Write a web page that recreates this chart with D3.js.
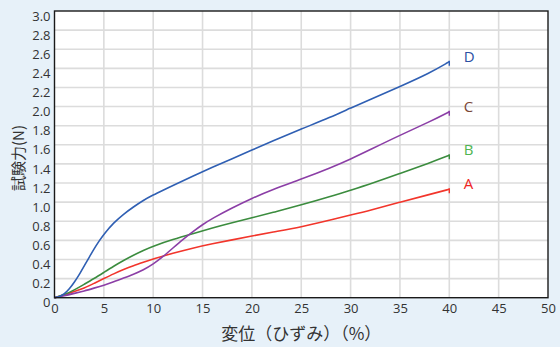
<!DOCTYPE html>
<html><head><meta charset="utf-8">
<script src="https://cdn.jsdelivr.net/npm/d3@7"></script>
<style>
html,body{margin:0;padding:0;background:#e7f1f9;}
svg{display:block;}
</style></head>
<body>
<svg id="chart" width="560" height="347"></svg>
<script>
const xTicks = [0,5,10,15,20,25,30,35,40,45,50];
const yTicks = [0,0.2,0.4,0.6,0.8,1.0,1.2,1.4,1.6,1.8,2.0,2.2,2.4,2.6,2.8,3.0];
const seriesNames = ["A","B","C","D"];
const xA = [0,1,2,3,4,5,6,7,8,9,10,12,14,16,18,20,22,25,28,30,32,35,38,40];
const valA = [0,0.03,0.065,0.1,0.15,0.2,0.25,0.295,0.335,0.37,0.405,0.465,0.52,0.565,0.605,0.645,0.685,0.74,0.815,0.865,0.915,1.0,1.08,1.135];
const xB = [0,1,2,3,4,5,6,7,8,9,10,12,14,16,18,20,22,25,28,30,32,35,38,40];
const valB = [0,0.03,0.08,0.14,0.2,0.265,0.33,0.39,0.445,0.495,0.54,0.61,0.67,0.73,0.785,0.835,0.89,0.97,1.06,1.125,1.19,1.3,1.41,1.49];
const xC = [0,1,2,3,4,5,6,7,8,9,10,11,12,13,14,15,16,18,20,22,25,28,30,32,35,38,40];
const valC = [0,0.02,0.045,0.07,0.1,0.13,0.165,0.205,0.245,0.29,0.35,0.43,0.52,0.61,0.69,0.765,0.83,0.94,1.04,1.13,1.24,1.36,1.45,1.55,1.7,1.84,1.946];
const xD = [0,0.5,1,1.5,2,2.5,3,3.5,4,4.5,5,6,7,8,9,10,11,12,14,16,18,20,22,25,28,30,32,35,38,40];
const valD = [0,0.01,0.04,0.09,0.16,0.24,0.33,0.42,0.51,0.59,0.665,0.785,0.875,0.95,1.02,1.075,1.125,1.175,1.27,1.365,1.455,1.545,1.635,1.765,1.89,1.985,2.075,2.21,2.35,2.47];
const lineColors = {A:"#f2352b",B:"#3b8c3e",C:"#8b3ea6",D:"#2f5fb3"};
const labelColors = {A:"#ee2424",B:"#4fb552",C:"#7a4636",D:"#2b4fa3"};

const series = [
  {name:"A", xs:xA, ys:valA},
  {name:"B", xs:xB, ys:valB},
  {name:"C", xs:xC, ys:valC},
  {name:"D", xs:xD, ys:valD}
];

const svg = d3.select("#chart");
const L = 54.5, R = 548, T = 11, B = 297.7;
const x = d3.scaleLinear().domain([0,50]).range([L,R]);
const y = d3.scaleLinear().domain([0,3.0]).range([B,T]);

svg.append("rect").attr("x",L).attr("y",T).attr("width",R-L).attr("height",B-T).attr("fill","#fff");

// grid
const g = svg.append("g");
g.selectAll(".vg").data(xTicks.slice(1,-1)).join("line")
  .attr("x1",d=>x(d)).attr("x2",d=>x(d)).attr("y1",T).attr("y2",B)
  .attr("stroke","#dcdcdc").attr("stroke-width",1.6);
g.selectAll(".hg").data(yTicks.slice(1,-1)).join("line")
  .attr("y1",d=>y(d)).attr("y2",d=>y(d)).attr("x1",L).attr("x2",R)
  .attr("stroke","#dcdcdc").attr("stroke-width",1.6);

// lines
const line = d3.line().x(d=>x(d[0])).y(d=>y(d[1])).curve(d3.curveBasis);
series.forEach(s=>{
  const pts = s.xs.map((v,i)=>[v,s.ys[i]]);
  svg.append("path").datum(pts).attr("d",line).attr("fill","none")
    .attr("stroke",lineColors[s.name]).attr("stroke-width",1.6);
  const last = pts[pts.length-1];
  svg.append("line").attr("x1",x(last[0])).attr("x2",x(last[0]))
    .attr("y1",y(last[1])-1).attr("y2",y(last[1])+4)
    .attr("stroke",lineColors[s.name]).attr("stroke-width",1.4);
  svg.append("text").attr("x",x(last[0])+14.5).attr("y",y(last[1])-4)
    .attr("dominant-baseline","middle")
    .attr("font-family","'Open Sans','Noto Sans',sans-serif").attr("font-size",15)
    .attr("fill",labelColors[s.name]).text(s.name);
});

// frame
svg.append("rect").attr("x",L).attr("y",T).attr("width",R-L).attr("height",B-T)
  .attr("fill","none").attr("stroke","#1a1a1a").attr("stroke-width",1.4);

// y axis
const yAxis = d3.axisLeft(y).tickValues(yTicks).tickSize(0).tickPadding(4)
  .tickFormat(d=> d===0 ? "0" : d3.format(".1f")(d));
const ya = svg.append("g").attr("transform",`translate(${L},0)`).call(yAxis);
ya.select(".domain").remove();
ya.selectAll("text").attr("font-family","'Open Sans','Noto Sans',sans-serif")
  .attr("font-size",13).attr("fill","#333").attr("dy","0.7em");

// x axis
const xAxis = d3.axisBottom(x).tickValues(xTicks).tickSize(0).tickPadding(6);
const xa = svg.append("g").attr("transform",`translate(0,${B})`).call(xAxis);
xa.select(".domain").remove();
xa.selectAll("text").attr("font-family","'Open Sans','Noto Sans',sans-serif")
  .attr("font-size",13).attr("fill","#333");

// titles
svg.append("text").attr("x",(L+R)/2).attr("y",340).attr("text-anchor","middle")
  .attr("font-family","'Noto Sans CJK JP',sans-serif").attr("font-size",17).attr("fill","#333")
  .text("変位（ひずみ）（%）");
svg.append("text").attr("transform","translate(24,158) rotate(-90)").attr("text-anchor","middle")
  .attr("font-family","'Noto Sans CJK JP',sans-serif").attr("font-size",15).attr("fill","#333")
  .text("試験力(N)");
</script>
</body></html>
